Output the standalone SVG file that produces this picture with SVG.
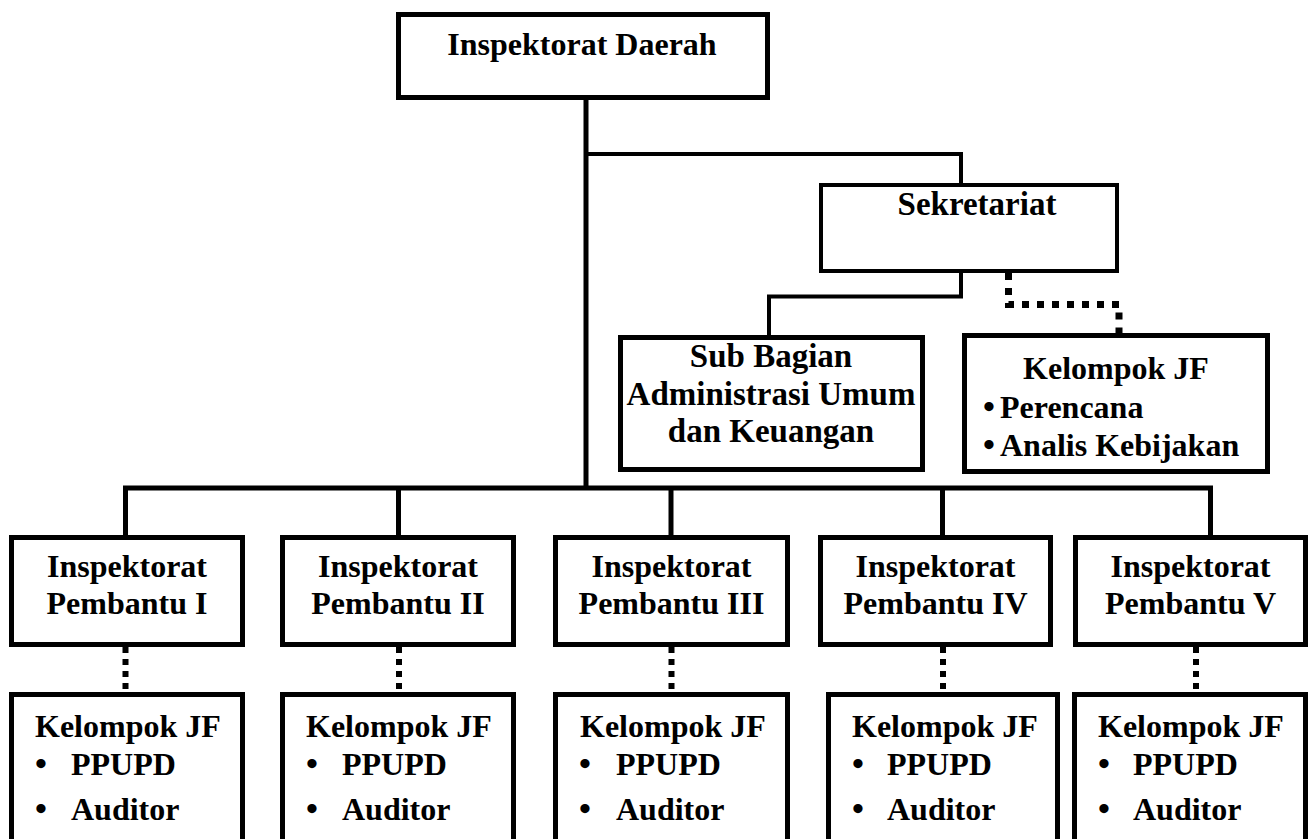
<svg xmlns="http://www.w3.org/2000/svg" width="1309" height="839" viewBox="0 0 1309 839">
<style>
  .bg { fill: #ffffff; }
  .box { fill: #ffffff; stroke: #000000; stroke-width: 5; }
  .box4 { fill: #ffffff; stroke: #000000; stroke-width: 4; }
  .t { font-family: "Liberation Serif", "Times New Roman", serif; font-weight: bold; font-size: 32px; fill: #000000; }
  .c { text-anchor: middle; }
  .b { font-size: 34px; }
  .solid { fill: none; stroke: #000000; stroke-width: 5; }
  .thin { fill: none; stroke: #000000; stroke-width: 4; }
  .dot7 { fill: none; stroke: #000000; stroke-width: 7; stroke-dasharray: 7 8; }
  .dot6 { fill: none; stroke: #000000; stroke-width: 6; stroke-dasharray: 6 6; }
</style>
<rect class="bg" x="0" y="0" width="1309" height="839"/>

<g id="connectors">
  <path class="solid" d="M586,100 V488"/>
  <path class="thin" d="M586,154 H961 V183"/>
  <path class="thin" d="M961,273 V296.5 H769 V335"/>
  <path class="dot7" d="M1008.5,273 V304.5 H1119 V335"/>
  <path class="solid" d="M125.5,535 V488 H1210.5 V535"/>
  <path class="solid" d="M398.5,488 V535"/>
  <path class="solid" d="M671,488 V535"/>
  <path class="solid" d="M942.5,488 V535"/>
  <path class="dot6" d="M125.5,647 V692"/>
  <path class="dot6" d="M399,647 V692"/>
  <path class="dot6" d="M671.5,647 V692"/>
  <path class="dot6" d="M943,647 V692"/>
  <path class="dot6" d="M1196,647 V692"/>
</g>

<g id="inspektorat-daerah">
  <rect class="box" x="398.5" y="14.5" width="369" height="83"/>
  <text class="t c" x="582" y="55">Inspektorat Daerah</text>
</g>

<g id="sekretariat">
  <rect class="box4" x="821" y="185" width="296" height="86"/>
  <text class="t c" x="977" y="215" style="font-size:33px">Sekretariat</text>
</g>

<g id="sub-bagian">
  <rect class="box" x="620.5" y="337.5" width="302" height="132"/>
  <text class="t c" x="771" y="367" style="font-size:33px">Sub Bagian</text>
  <text class="t c" x="771" y="405" style="font-size:33px">Administrasi Umum</text>
  <text class="t c" x="771" y="442" style="font-size:33px">dan Keuangan</text>
</g>

<g id="kelompok-jf-sekretariat">
  <rect class="box" x="964.5" y="335.5" width="303" height="136"/>
  <text class="t c" x="1116" y="379">Kelompok JF</text>
  <text class="t" x="983" y="418"><tspan class="b">•</tspan><tspan x="1000">Perencana</tspan></text>
  <text class="t" x="983" y="456"><tspan class="b">•</tspan><tspan x="1000">Analis Kebijakan</tspan></text>
</g>

<g id="ip1">
  <rect class="box" x="11.5" y="537.5" width="231" height="107"/>
  <text class="t c" x="127" y="577">Inspektorat</text>
  <text class="t c" x="127" y="614">Pembantu I</text>
</g>
<g id="ip2">
  <rect class="box" x="282.5" y="537.5" width="231" height="107"/>
  <text class="t c" x="398" y="577">Inspektorat</text>
  <text class="t c" x="398" y="614">Pembantu II</text>
</g>
<g id="ip3">
  <rect class="box" x="555.5" y="537.5" width="232" height="107"/>
  <text class="t c" x="671.5" y="577">Inspektorat</text>
  <text class="t c" x="671.5" y="614">Pembantu III</text>
</g>
<g id="ip4">
  <rect class="box" x="820.5" y="537.5" width="230" height="107"/>
  <text class="t c" x="935.5" y="577">Inspektorat</text>
  <text class="t c" x="935.5" y="614">Pembantu IV</text>
</g>
<g id="ip5">
  <rect class="box" x="1075.5" y="537.5" width="230" height="107"/>
  <text class="t c" x="1190.5" y="577">Inspektorat</text>
  <text class="t c" x="1190.5" y="614">Pembantu V</text>
</g>

<g id="jf1">
  <rect class="box" x="11.5" y="694.5" width="231" height="170"/>
  <text class="t" x="35" y="737">Kelompok JF</text>
  <text class="t" x="35" y="775"><tspan class="b">•</tspan><tspan x="71">PPUPD</tspan></text>
  <text class="t" x="35" y="820"><tspan class="b">•</tspan><tspan x="71">Auditor</tspan></text>
</g>
<g id="jf2">
  <rect class="box" x="282.5" y="694.5" width="231" height="170"/>
  <text class="t" x="306" y="737">Kelompok JF</text>
  <text class="t" x="306" y="775"><tspan class="b">•</tspan><tspan x="342">PPUPD</tspan></text>
  <text class="t" x="306" y="820"><tspan class="b">•</tspan><tspan x="342">Auditor</tspan></text>
</g>
<g id="jf3">
  <rect class="box" x="555.5" y="694.5" width="232" height="170"/>
  <text class="t" x="580" y="737">Kelompok JF</text>
  <text class="t" x="579" y="775"><tspan class="b">•</tspan><tspan x="616">PPUPD</tspan></text>
  <text class="t" x="579" y="820"><tspan class="b">•</tspan><tspan x="616">Auditor</tspan></text>
</g>
<g id="jf4">
  <rect class="box" x="828.5" y="694.5" width="229" height="170"/>
  <text class="t" x="852" y="737">Kelompok JF</text>
  <text class="t" x="852" y="775"><tspan class="b">•</tspan><tspan x="887">PPUPD</tspan></text>
  <text class="t" x="852" y="820"><tspan class="b">•</tspan><tspan x="887">Auditor</tspan></text>
</g>
<g id="jf5">
  <rect class="box" x="1074.5" y="694.5" width="231" height="170"/>
  <text class="t" x="1098" y="737">Kelompok JF</text>
  <text class="t" x="1098" y="775"><tspan class="b">•</tspan><tspan x="1133">PPUPD</tspan></text>
  <text class="t" x="1098" y="820"><tspan class="b">•</tspan><tspan x="1133">Auditor</tspan></text>
</g>
</svg>
